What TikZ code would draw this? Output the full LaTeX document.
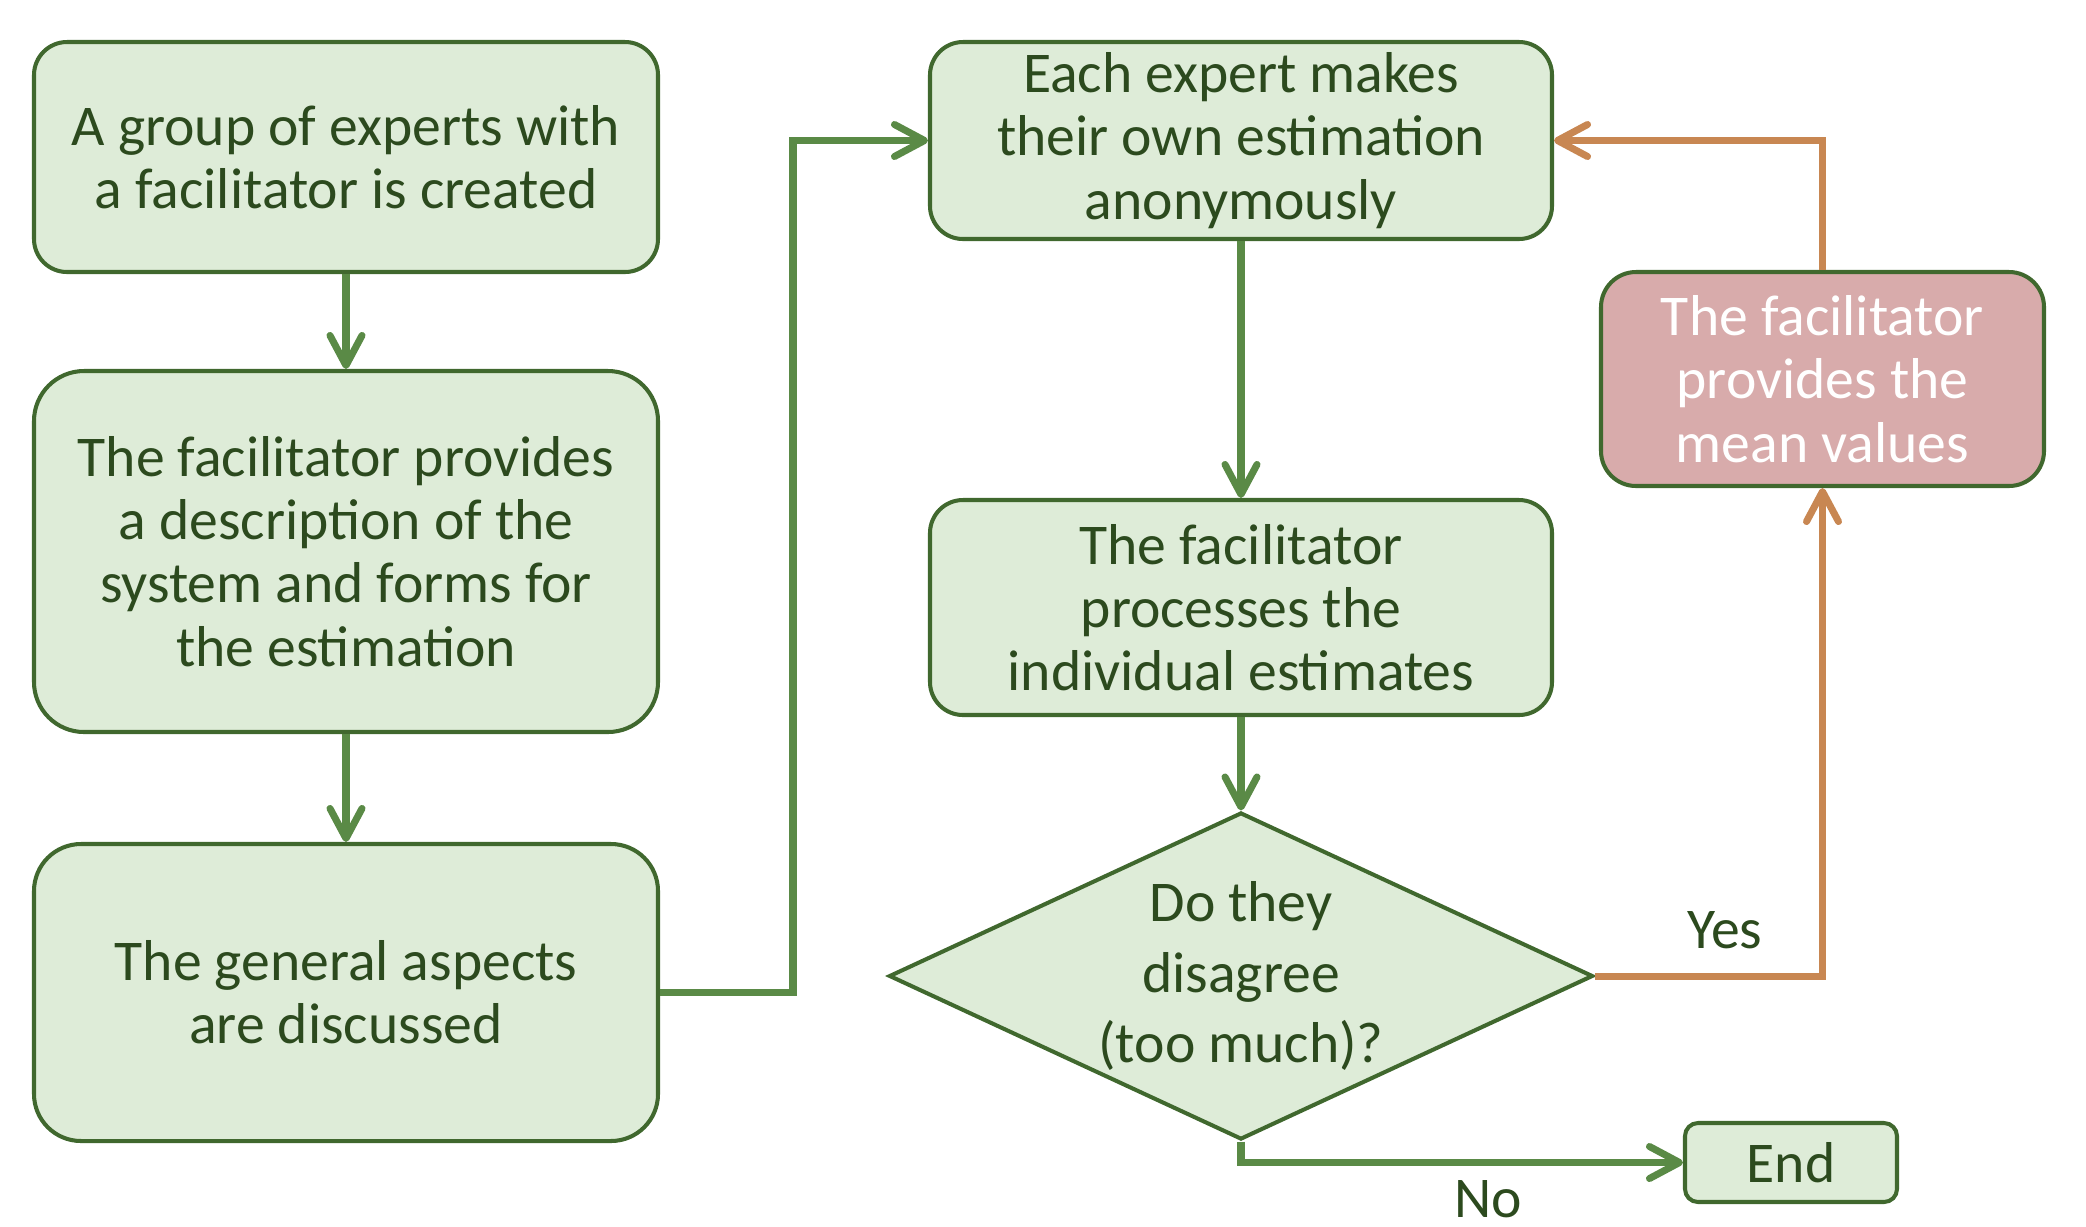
\documentclass[tikz,border=0pt]{standalone}
\usepackage{fontspec}
\setmainfont{Carlito}
\usetikzlibrary{arrows.meta,shapes.geometric}
\definecolor{boxfill}{HTML}{DEECD8}
\definecolor{boxline}{HTML}{40682E}
\definecolor{linkgreen}{HTML}{5A8A46}
\definecolor{txtgreen}{HTML}{2C4A1E}
\definecolor{yesorange}{HTML}{C88752}
\definecolor{meanfill}{HTML}{D8ABAB}

\begin{document}
\begin{tikzpicture}[->,>={Straight Barb[length=3mm,width=3.2mm,round]},
		every edge/.style={draw=linkgreen, line width=2pt},
		link/.style={draw=linkgreen, line width=2pt},
		yes/.style={draw=yesorange, line width=2pt},
		box/.style={rectangle, draw=boxline, fill=boxfill, line width=1.15pt,
			text=txtgreen, align=center, inner sep=0pt, minimum width=6.24cm,
			font=\fontsize{16.4}{18}\selectfont},
		decide/.style={diamond, draw=boxline, fill=boxfill, line width=1.15pt,
			text=txtgreen, align=center, inner sep=-2pt, shape aspect=2.15,
			minimum width=7.04cm, minimum height=3.27cm,
			font=\fontsize{16.4}{20}\selectfont},
		mean/.style={box, fill=meanfill, text=white, rounded corners=0.35cm,
			minimum width=4.43cm, minimum height=2.14cm},
		lbl/.style={text=txtgreen, inner sep=0pt, anchor=base,
			font=\fontsize{16.4}{18}\selectfont}]

		\useasboundingbox (0,0) rectangle (20.86,-12.26);

		% left column
		\node[box, rounded corners=0.33cm, minimum height=2.30cm] (A1) at (3.46,-1.57) {A group of experts with\\a facilitator is created};
		\node[box, rounded corners=0.5cm, minimum height=3.61cm] (A2) [below of=A1, node distance=3.945cm] {The facilitator provides\\a description of the\\system and forms for\\the estimation};
		\node[box, rounded corners=0.47cm, minimum height=2.97cm] (A3) [below of=A2, node distance=4.41cm] {The general aspects\\are discussed};

		% right column
		\node[box, rounded corners=0.33cm, minimum width=6.22cm, minimum height=1.97cm] (B1) at (12.41,-1.405) {Each expert makes\\their own estimation\\anonymously};
		\node[box, rounded corners=0.33cm, minimum width=6.22cm, minimum height=2.15cm] (B2) [below of=B1, node distance=4.67cm] {The facilitator\\processes the\\individual estimates};
		\node[decide] (D) [below of=B2, node distance=3.685cm] {Do they\\disagree\\(too much)?};

		\node[mean] (M) at (18.225,-3.79) {The facilitator\\provides the\\mean values};
		\node[box, rounded corners=0.13cm, minimum width=2.12cm, minimum height=0.79cm] (E) at (17.91,-11.625) {End};

		\coordinate (K1) at (7.93,-1.405);

		\path (A1) edge (A2);
		\path (A2) edge (A3);
		\draw[link] (A3.east) -| (K1) -- (B1.west);
		\path (B1) edge (B2);
		\path (B2) edge (D);

		\draw[yes] (D.east) -| node[lbl, pos=0.285, yshift=0.28cm] {Yes} (M.south);
		\draw[yes] (M.north) |- (B1.east);
		\draw[link] (D.south) |- node[lbl, pos=0.78, yshift=-0.55cm] {No} (E.west);

	\end{tikzpicture}
\end{document}
